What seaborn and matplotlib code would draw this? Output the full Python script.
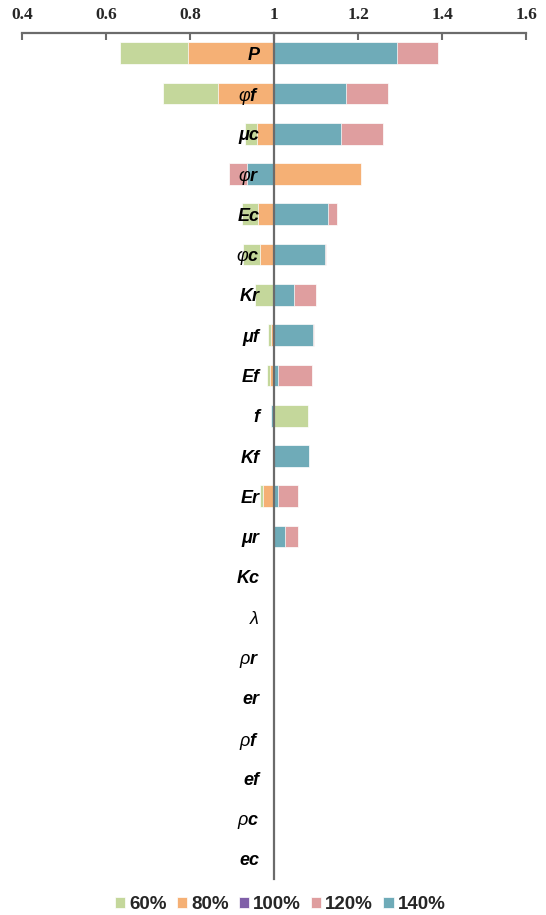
import matplotlib
matplotlib.use("Agg")
import matplotlib.pyplot as plt
import numpy as np
import pandas as pd
import seaborn as sns
from matplotlib.patches import Patch
from matplotlib.ticker import FuncFormatter

# Parameters (top to bottom) and relative response at each perturbation level
params = ["P", r"$\varphi$f", "μc", r"$\varphi$r", "Ec", r"$\varphi$c", "Kr", "μf", "Ef",
          "f", "Kf", "Er", "μr", "Kc", r"$\lambda$", r"$\rho$r", "er", r"$\rho$f",
          "ef", r"$\rho$c", "ec"]
s60 = [0.633, 0.734, 0.931, 1.000, 0.924, 0.925, 0.954, 0.985, 0.983, 1.080, 1.000,
       0.966, 1.000, 1.0, 1.0, 1.0, 1.0, 1.0, 1.0, 1.0, 1.0]
s80 = [0.795, 0.867, 0.959, 1.206, 0.962, 0.966, 1.000, 0.993, 0.990, 1.000, 1.000,
       0.973, 1.000, 1.0, 1.0, 1.0, 1.0, 1.0, 1.0, 1.0, 1.0]
s100 = [1.0] * 21
s120 = [1.391, 1.270, 1.260, 0.891, 1.149, 1.123, 1.100, 1.094, 1.089, 1.000, 1.000,
        1.056, 1.056, 1.0, 1.0, 1.0, 1.0, 1.0, 1.0, 1.0, 1.0]
s140 = [1.292, 1.172, 1.160, 0.934, 1.127, 1.120, 1.046, 1.092, 1.008, 0.993, 1.082,
        1.009, 1.026, 1.0, 1.0, 1.0, 1.0, 1.0, 1.0, 1.0, 1.0]
levels = ["60%", "80%", "100%", "120%", "140%"]
series = [s60, s80, s100, s120, s140]
colors = ["#C4D79B", "#F5B075", "#7F5FA8", "#DF9E9F", "#6FABB8"]
baseline = 1.0

sns.set_style("white")
plt.rcParams["font.family"] = ["Liberation Sans", "DejaVu Sans"]
plt.rcParams["mathtext.fontset"] = "custom"
plt.rcParams["mathtext.it"] = "Liberation Sans:italic"
plt.rcParams["mathtext.rm"] = "Liberation Sans"
plt.rcParams["mathtext.bf"] = "Liberation Sans:bold"

fig = plt.figure(figsize=(5.46, 9.15), dpi=100)
ax = fig.add_axes([0.0412, 0.0393, 0.9222, 0.9246])

# Bars grow out of the baseline of 1; later levels are drawn over earlier ones
for lvl, vals, col in zip(levels, series, colors):
    df = pd.DataFrame({"param": params, "dev": np.array(vals) - baseline})
    sns.barplot(data=df, x="dev", y="param", order=params, orient="h",
                color=col, saturation=1, width=0.54, edgecolor="white",
                linewidth=0.5, ax=ax, errorbar=None)

ax.set_xlim(-0.6, 0.6)
ax.set_xticks(np.arange(-0.6, 0.61, 0.2))
ax.xaxis.set_major_formatter(FuncFormatter(lambda v, p: f"{baseline + v:.1f}".rstrip("0").rstrip(".")))
ax.xaxis.tick_top()
ax.set_xlabel("")
ax.set_ylabel("")
ax.set_axisbelow(False)

axis_grey = "#6B6B6B"
for side in ["bottom", "right"]:
    ax.spines[side].set_visible(False)
ax.spines["top"].set_color(axis_grey)
ax.spines["top"].set_linewidth(1.6)
ax.spines["left"].set_position(("data", 0))
ax.spines["left"].set_color(axis_grey)
ax.spines["left"].set_linewidth(1.6)

ax.tick_params(axis="x", direction="in", length=5, width=1.5, color=axis_grey, pad=7)
for lab in ax.get_xticklabels():
    lab.set_fontfamily("Liberation Serif")
    lab.set_fontweight("bold")
    lab.set_fontsize(12.5)

ax.tick_params(axis="y", length=0, pad=10.5)
for lab in ax.get_yticklabels():
    lab.set_fontweight("bold")
    lab.set_fontstyle("italic")
    lab.set_fontsize(13)
    lab.set_color("black")

handles = [Patch(facecolor=c, edgecolor="white", linewidth=0.5) for c in colors]
fig.legend(handles, levels, loc="center", bbox_to_anchor=(0.513, 0.0115), ncol=5,
           frameon=False, handlelength=0.55, handleheight=0.55, handletextpad=0.2,
           columnspacing=0.55, borderpad=0.1,
           prop={"family": "Liberation Sans", "weight": "bold", "size": 13.5})

fig.savefig("out.png", dpi=100)
